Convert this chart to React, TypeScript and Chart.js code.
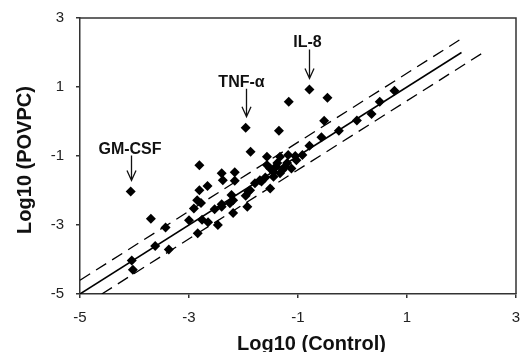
import React, { useEffect, useRef } from "react";
import { Chart, registerables } from "chart.js";

Chart.register(...registerables);

// ---- data ----
const X_CONTROL = [
  -4.05, -4.03, -3.62, -3.37, -3.43, -3.7, -4.07, -3.0, -2.91, -2.85,
  -2.78, -2.81, -2.66, -2.76, -2.65, -2.84, -2.47, -2.53, -2.4, -2.25,
  -2.22, -2.19, -1.93, -1.88, -1.96, -2.4, -2.38, -2.16, -2.16, -2.81,
  -1.87, -1.96, -1.7, -1.6, -1.45, -1.57, -1.35, -1.17, -0.79, -0.46,
  -0.52, -0.57, -0.79, -0.25, 0.08, 0.35, 0.5, 0.77, -0.92, -1.33,
  -1.18, -1.03, -1.24, -1.12, -1.33, -1.45, -1.67, -1.51, -1.79, -1.91,
  -1.57, -2.19, -2.4, -1.38, -1.2, -1.28, -1.05, -1.4, -1.51,
];
const Y_POVPC = [
  -4.03, -4.3, -3.61, -3.71, -3.07, -2.82, -2.03, -2.86, -2.52, -2.28,
  -2.36, -1.99, -1.87, -2.85, -2.92, -3.24, -3.0, -2.54, -2.4, -2.37,
  -2.13, -2.65, -2.47, -1.99, -2.15, -1.5, -1.7, -1.47, -1.72, -1.27,
  -0.88, -0.18, -1.7, -1.62, -1.46, -1.02, -0.27, 0.57, 0.93, 0.69,
  0.02, -0.46, -0.7, -0.27, 0.03, 0.22, 0.57, 0.89, -0.97, -1.02,
  -0.97, -1.12, -1.31, -1.36, -1.5, -1.6, -1.74, -1.94, -1.79, -2.03,
  -1.26, -2.28, -2.47, -1.2, -1.2, -1.4, -1.0, -1.3, -1.36,
];

const X_TICKS = [-5, -3, -1, 1, 3];
const Y_TICKS = [-5, -3, -1, 1, 3];

const IDENTITY_X = [-5, 2];
const IDENTITY_Y = [-5, 2];
const UPPER_X = [-5, 2];
const UPPER_Y = [-4.6, 2.4];
const LOWER_X = [-4.6, 2.4];
const LOWER_Y = [-5, 2];

const LABEL_TEXT = ["GM-CSF", "TNF-\u03b1", "IL-8"];
const LABEL_POINT = [6, 31, 38];

const X_TITLE = "Log10 (Control)";
const Y_TITLE = "Log10 (POVPC)";

// ---- styling ----
const FONT = "'Liberation Sans', Arial, Helvetica, sans-serif";
const LABEL_DX = [-1.5, -5, -2];
const ARROW_LEN = [25, 28, 29];
const TIP_GAP = 11;

const overlay = {
  id: "overlay",
  afterDatasetsDraw(chart: any) {
    const { ctx, chartArea: a, scales } = chart;
    ctx.save();
    ctx.strokeStyle = "#333";
    ctx.lineWidth = 1.5;
    ctx.beginPath();
    ctx.moveTo(a.left, a.top);
    ctx.lineTo(a.right, a.top);
    ctx.lineTo(a.right, a.bottom);
    ctx.stroke();

    ctx.strokeStyle = "#111";
    ctx.lineWidth = 1.3;
    ctx.fillStyle = "#111";
    ctx.font = `bold 16px ${FONT}`;
    ctx.textAlign = "center";
    ctx.textBaseline = "alphabetic";
    LABEL_TEXT.forEach((t, i) => {
      const k = LABEL_POINT[i];
      const px = Math.round(scales.x.getPixelForValue(X_CONTROL[k])) + 0.5;
      const py = scales.y.getPixelForValue(Y_POVPC[k]);
      const tip = py - TIP_GAP;
      const start = tip - ARROW_LEN[i];
      ctx.beginPath();
      ctx.moveTo(px, start);
      ctx.lineTo(px, tip);
      ctx.moveTo(px - 4.5, tip - 10);
      ctx.lineTo(px, tip);
      ctx.lineTo(px + 4.5, tip - 10);
      ctx.stroke();
      ctx.fillText(t, px + LABEL_DX[i], start - 2);
    });

    ctx.fillStyle = "#111";
    ctx.font = `bold 20px ${FONT}`;
    ctx.textAlign = "center";
    ctx.textBaseline = "alphabetic";
    ctx.fillText(X_TITLE, (a.left + a.right) / 2 + 13.5, a.bottom + 56);
    ctx.translate(31, (a.top + a.bottom) / 2 + 4);
    ctx.rotate(-Math.PI / 2);
    ctx.fillText(Y_TITLE, 0, 0);
    ctx.restore();
  },
};

const zeroPad = (s: any) => {
  s.paddingLeft = 0;
  s.paddingRight = 0;
  s.paddingTop = 0;
  s.paddingBottom = 0;
};

export default function App() {
  const ref = useRef<HTMLCanvasElement>(null);
  useEffect(() => {
    const pts = X_CONTROL.map((x, i) => ({ x, y: Y_POVPC[i] }));
    const seg = (xs: number[], ys: number[]) => xs.map((x, i) => ({ x, y: ys[i] }));
    const chart = new Chart(ref.current as HTMLCanvasElement, {
      type: "scatter",
      data: {
        datasets: [
          {
            data: pts,
            pointStyle: "rectRot",
            pointRadius: 5,
            pointHoverRadius: 5,
            backgroundColor: "#000",
            borderColor: "#000",
            borderWidth: 0,
          },
          {
            data: seg(IDENTITY_X, IDENTITY_Y),
            showLine: true,
            pointRadius: 0,
            borderColor: "#000",
            borderWidth: 1.5,
          },
          {
            data: seg(UPPER_X, UPPER_Y),
            showLine: true,
            pointRadius: 0,
            borderColor: "#000",
            borderWidth: 1.3,
            borderDash: [12, 7],
          },
          {
            data: seg(LOWER_X, LOWER_Y),
            showLine: true,
            pointRadius: 0,
            borderColor: "#000",
            borderWidth: 1.3,
            borderDash: [12, 7],
          },
        ],
      } as any,
      options: {
        animation: false,
        responsive: false,
        layout: { padding: { top: 18, right: 6, left: 0, bottom: 0 } },
        plugins: { legend: { display: false }, tooltip: { enabled: false } },
        scales: {
          x: {
            type: "linear",
            min: -5,
            max: 3,
            afterBuildTicks: (s: any) => {
              s.ticks = X_TICKS.map((v) => ({ value: v }));
            },
            afterFit: (s: any) => {
              s.height = 58;
              zeroPad(s);
            },
            ticks: { padding: 11, color: "#222", font: { size: 15, family: FONT } },
            grid: { drawOnChartArea: false, tickLength: 4, color: "#333", lineWidth: 1.5 },
            border: { color: "#333", width: 1.5 },
          },
          y: {
            type: "linear",
            min: -5,
            max: 3,
            afterBuildTicks: (s: any) => {
              s.ticks = Y_TICKS.map((v) => ({ value: v }));
            },
            afterFit: (s: any) => {
              s.width = 80;
              zeroPad(s);
            },
            ticks: { padding: 12, color: "#222", font: { size: 15, family: FONT } },
            grid: { drawOnChartArea: false, tickLength: 4, color: "#333", lineWidth: 1.5 },
            border: { color: "#333", width: 1.5 },
          },
        },
      } as any,
      plugins: [overlay],
    });
    return () => chart.destroy();
  }, []);
  return (
    <div style={{ position: "absolute", left: 0, top: 0, width: 522, height: 352, background: "#fff" }}>
      <canvas ref={ref} width={522} height={352} style={{ display: "block" }} />
    </div>
  );
}
